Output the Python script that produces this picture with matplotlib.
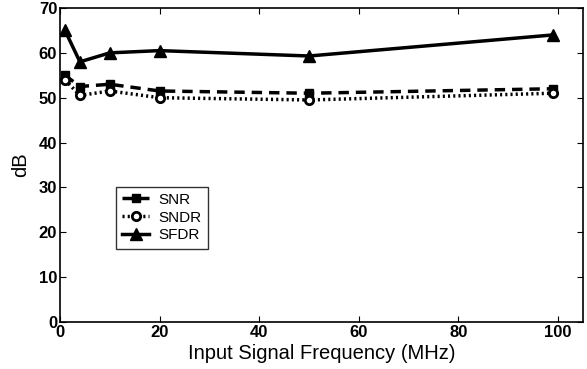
import matplotlib
matplotlib.use("Agg")
import matplotlib.pyplot as plt

freq = [1, 4, 10, 20, 50, 99]
snr = [55.0, 52.5, 53.0, 51.5, 51.0, 52.0]
sndr = [54.0, 50.5, 51.5, 50.0, 49.5, 51.0]
sfdr = [65.0, 58.0, 60.0, 60.5, 59.3, 64.0]

plt.rcParams["font.family"] = ["Liberation Sans", "DejaVu Sans"]

fig = plt.figure(figsize=(5.87, 3.69), dpi=100)
ax = fig.add_axes([60 / 587, 1 - 322 / 369, 523 / 587, 314 / 369])

ax.plot(freq, snr, color="black", linestyle=(0, (3, 2)), linewidth=2.5,
        marker="s", markersize=6, label="SNR")
ax.plot(freq, sndr, color="black", linestyle=(0, (0.6, 0.9)), linewidth=2.5,
        marker="o", markersize=6, markerfacecolor="white", markeredgewidth=2,
        label="SNDR")
ax.plot(freq, sfdr, color="black", linestyle="-", linewidth=2.5,
        marker="^", markersize=8, label="SFDR")

ax.set_xlim(0, 105)
ax.set_ylim(0, 70)
ax.set_xticks([0, 20, 40, 60, 80, 100])
ax.set_yticks(range(0, 71, 10))
ax.tick_params(direction="in", top=True, right=True, labelsize=12, length=4,
               pad=2)
for lab in ax.get_xticklabels() + ax.get_yticklabels():
    lab.set_fontweight("semibold")
for s in ax.spines.values():
    s.set_linewidth(1.2)

ax.set_xlabel("Input Signal Frequency (MHz)", fontsize=14.5, labelpad=3)
ax.set_ylabel("dB", fontsize=14.5, labelpad=6)

leg = ax.legend(loc="upper left", bbox_to_anchor=(48 / 523, 143 / 314),
                fontsize=11, frameon=True, fancybox=False, edgecolor="black",
                handlelength=1.8, borderpad=0.4, labelspacing=0.25,
                handletextpad=0.6)
leg.get_frame().set_linewidth(1.0)

fig.savefig("out.png", dpi=100)
